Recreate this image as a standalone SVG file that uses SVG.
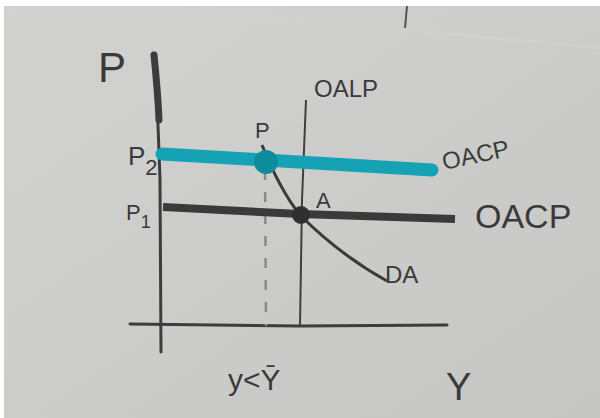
<svg xmlns="http://www.w3.org/2000/svg" width="600" height="418" viewBox="0 0 600 418">
<defs>
<style>
.hand{font-family:"Liberation Sans",Arial,sans-serif;fill:#3a3a3a}
.ax{stroke:#3c3c3c;fill:none;stroke-linecap:round}
</style>
<linearGradient id="bg" x1="0" y1="0" x2="1" y2="1">
<stop offset="0" stop-color="#d2d2d0"/>
<stop offset="1" stop-color="#c6c6c4"/>
</linearGradient>
</defs>
<rect width="600" height="418" fill="#ffffff"/>
<rect x="4" y="6" width="596" height="412" fill="url(#bg)"/>
<path d="M180 8 L600 48" stroke="#d3cfcd" stroke-width="3" fill="none"/>
<path d="M407 6 L405 28" stroke="#555" stroke-width="2" fill="none"/>
<g id="axes">
<path class="ax" d="M155 55 Q158 120 160 180 L161 352" stroke-width="3"/>
<path class="ax" d="M154 55 Q158 95 159 120" stroke-width="7"/>
<path class="ax" d="M130 324 L300 326 L447 325" stroke-width="3"/>
</g>
<g id="connectors">
<path id="oalp" d="M306 100 L302 200 L300 326" stroke="#404040" stroke-width="2" fill="none"/>
<path id="dashed" d="M265 170 L266 326" stroke="#8a8a8a" stroke-width="2.5" stroke-dasharray="10,12" fill="none"/>
<path id="p1line" d="M163 207 L300 214 L455 219" stroke="#3a3a3a" stroke-width="8" fill="none"/>
<path id="p2line" d="M162 154 L265 160 L432 170" stroke="#16a2b5" stroke-width="13" stroke-linecap="round" fill="none"/>
<path id="da" d="M262 145 Q280 190 300 215 Q340 255 387 281" stroke="#3a3a3a" stroke-width="3" fill="none"/>
</g>
<g id="pointP2"><circle cx="266" cy="162" r="12" fill="#0f8c9c"/></g>
<g id="pointA"><circle cx="301" cy="215" r="9" fill="#303030"/></g>
<g id="labels">
<text class="hand" x="98" y="82" font-size="42">P</text>
<text class="hand" x="128" y="165" font-size="26">P<tspan font-size="22" dy="10">2</tspan></text>
<text class="hand" x="126" y="220" font-size="22">P<tspan font-size="18" dy="8">1</tspan></text>
<text class="hand" x="255" y="138" font-size="22">P</text>
<text class="hand" x="314" y="97" font-size="24">OALP</text>
<text class="hand" x="444" y="170" font-size="24" transform="rotate(-12 444 170)">OACP</text>
<text class="hand" x="475" y="228" font-size="34">OACP</text>
<text class="hand" x="316" y="208" font-size="22">A</text>
<text class="hand" x="385" y="283" font-size="24">DA</text>
<text class="hand" x="228" y="390" font-size="30">y&lt;Ȳ</text>
<text class="hand" x="446" y="400" font-size="38">Y</text>
</g>
</svg>
